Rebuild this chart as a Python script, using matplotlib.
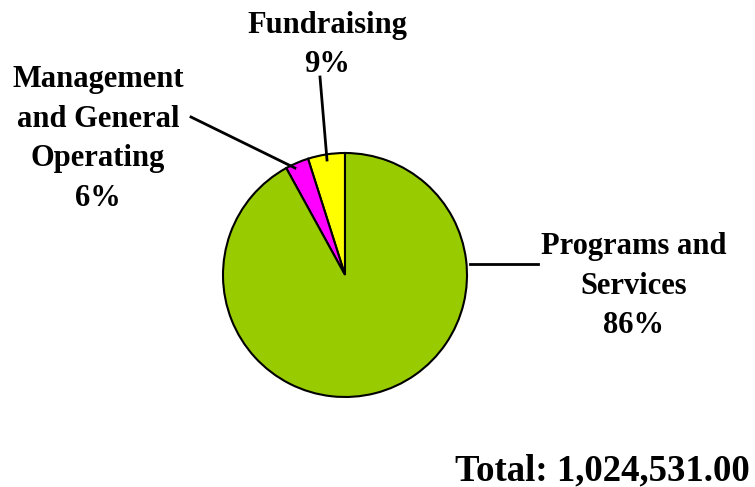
import matplotlib.pyplot as plt

# slice sizes as drawn (percent of circle), and the labels printed beside them
categories = ["Fundraising", "Management and General Operating", "Programs and Services"]
slice_values = [4.9, 3.1, 92.0]
label_text = ["Fundraising\n9%", "Management\nand General\nOperating\n6%", "Programs and\nServices\n86%"]
colors = ["#FFFF00", "#FF00FF", "#99CC00"]
total_text = "Total: 1,024,531.00"

W, H = 755, 487
fig = plt.figure(figsize=(W / 100, H / 100), dpi=100)
ax = fig.add_axes([0, 0, 1, 1])

def py(y):
    # pixel row (from top) to axes y
    return H - y

ax.pie(slice_values, colors=colors, startangle=90, counterclock=True,
       center=(345, py(275)), radius=122, frame=True,
       wedgeprops=dict(edgecolor='black', linewidth=1.5))
ax.set_xlim(0, W)
ax.set_ylim(0, H)
ax.axis('off')

font = dict(family='Liberation Serif', fontweight='bold', fontsize=22,
            ha='center', va='center', linespacing=1.48)

ax.text(327, py(45), label_text[0], **font)
ax.text(98, py(139), label_text[1], **font)
ax.text(634, py(286), label_text[2], **font)

# leader lines
ax.plot([320, 327], [py(77), py(160)], color='black', lw=2)
ax.plot([191, 295], [py(117), py(168)], color='black', lw=2)
ax.plot([470, 538], [py(264), py(264)], color='black', lw=2)

ax.text(602, py(471), total_text, family='Liberation Serif', fontweight='bold',
        fontsize=26.5, ha='center', va='center')

fig.savefig('out.png', dpi=100)
